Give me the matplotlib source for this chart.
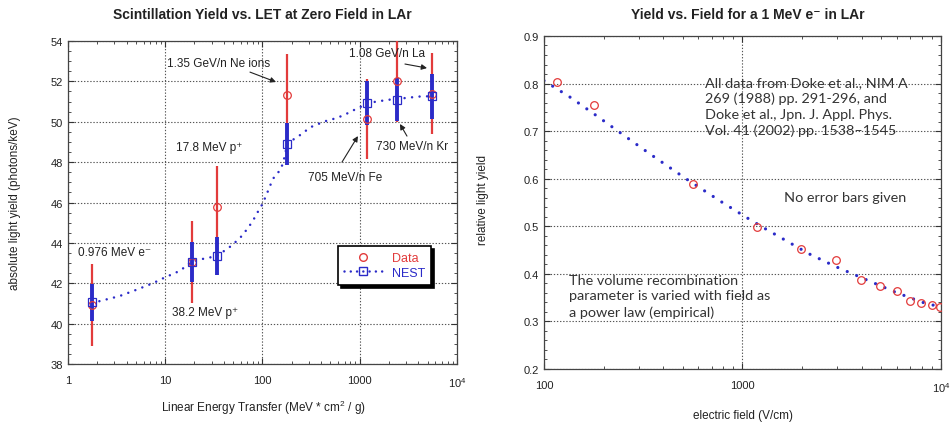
import matplotlib
matplotlib.use("Agg")
import matplotlib.pyplot as plt
from matplotlib.ticker import MultipleLocator, LogLocator, NullFormatter, FixedLocator, FixedFormatter
from matplotlib.lines import Line2D

plt.rcParams['font.family'] = ['Liberation Sans', 'DejaVu Sans']
plt.rcParams['mathtext.default'] = 'regular'

RED = '#e23b3b'
BLUE = '#2b2bc8'
GRID = dict(color='#555555', linestyle=(0, (1.2, 1.6)), linewidth=0.8)

# left panel: scintillation yield vs LET
let_x = [1.77, 18.7, 33.8, 180, 1190, 2400, 5500]
data_y = [40.92, 43.05, 45.76, 51.35, 50.15, 52.0, 51.4]
data_err = [2.03, 2.05, 2.05, 2.0, 1.97, 2.0, 2.03]
nest_y = [41.05, 43.05, 43.34, 48.9, 50.93, 51.1, 51.26]
nest_err = [0.9, 1.0, 0.95, 1.03, 1.1, 1.05, 1.1]

nest_curve_x = [1.77, 2.22, 3.37, 5.08, 7.54, 9.55, 14.2, 18.7, 26, 33.8, 47.1, 58.7,
                69.8, 79.2, 89.2, 100, 110, 128, 155, 166, 180, 216, 253, 308, 375,
                457, 566, 689, 846, 1006, 1196, 1553, 1893, 2400, 3420, 4335, 5500]
nest_curve_y = [41.02, 41.14, 41.36, 41.68, 42.01, 42.25, 42.62, 43.07, 43.24, 43.34, 43.83, 44.24,
                44.69, 45.07, 45.52, 45.93, 46.39, 47.17, 47.66, 48.12, 48.9, 49.18, 49.39, 49.72, 49.89,
                50.05, 50.17, 50.33, 50.55, 50.72, 50.93, 51.01, 51.08, 51.13, 51.21, 51.26, 51.26]

# right panel: relative yield vs field
field_x = [116, 179, 561, 1184, 1979, 2950, 3960, 4930, 5980, 6950, 7925, 8980, 9940]
field_y = [0.803, 0.755, 0.588, 0.499, 0.4525, 0.430, 0.387, 0.3755, 0.364, 0.342, 0.339, 0.3335, 0.330]
fit_x = [100, 137, 186, 251, 342, 519, 779, 1062, 1313, 2166, 2958, 4030, 5930, 8090, 10000]
fit_y = [0.806, 0.770, 0.731, 0.692, 0.652, 0.600, 0.552, 0.517, 0.494, 0.442, 0.415, 0.391,
         0.361, 0.340, 0.330]

fig = plt.figure(figsize=(9.52, 4.27), dpi=100)
ax1 = fig.add_axes([0.0714, 0.1452, 0.4086, 0.7564])
ax2 = fig.add_axes([0.5714, 0.1335, 0.417, 0.7799])


def style_axes(ax):
    ax.tick_params(which='both', direction='in', top=True, right=True, colors='#333333',
                   labelsize=8, labelcolor='#222222')
    ax.tick_params(which='major', length=4)
    ax.tick_params(which='minor', length=2.5)
    for s in ax.spines.values():
        s.set_color('#444444')
        s.set_linewidth(0.9)


# ---- left
ax1.set_xscale('log')
ax1.set_xlim(1, 1e4)
ax1.set_ylim(38, 54)
ax1.grid(True, which='major', **GRID)
ax1.plot(nest_curve_x, nest_curve_y, color=BLUE, linewidth=1.8,
         linestyle=(0, (0.01, 3.0)), dash_capstyle='round', zorder=2)
ax1.errorbar(let_x, data_y, yerr=data_err, fmt='none', ecolor=RED, elinewidth=1.6, capsize=0, zorder=3)
ax1.errorbar(let_x, nest_y, yerr=nest_err, fmt='none', ecolor=BLUE, elinewidth=2.8, capsize=0, zorder=4)
ax1.plot(let_x, data_y, 'o', mfc='none', mec=RED, ms=5.5, mew=0.9, zorder=5)
ax1.plot(let_x, nest_y, 's', mfc='none', mec=BLUE, ms=5.5, mew=0.9, zorder=6)
ax1.xaxis.set_major_locator(FixedLocator([1, 10, 100, 1000, 10000]))
ax1.xaxis.set_major_formatter(FixedFormatter(['1', '10', '100', '1000', '10$^4$']))
ax1.xaxis.set_minor_locator(LogLocator(base=10, subs=range(2, 10), numticks=20))
ax1.xaxis.set_minor_formatter(NullFormatter())
ax1.yaxis.set_major_locator(MultipleLocator(2))
ax1.yaxis.set_minor_locator(MultipleLocator(0.5))
style_axes(ax1)
ax1.tick_params(axis='x', pad=8)

afs = 8.5
arrow = dict(arrowstyle='-|>', color='#222222', lw=0.8, mutation_scale=8, shrinkA=0, shrinkB=0)
ax1.text(10.4, 52.91, '1.35 GeV/n Ne ions', fontsize=afs, va='center', color='#222222')
ax1.annotate('', xy=(137.7, 51.97), xytext=(74.4, 52.46), arrowprops=arrow)
ax1.text(775, 53.41, '1.08 GeV/n La', fontsize=afs, va='center', color='#222222')
ax1.annotate('', xy=(4920, 52.66), xytext=(2919, 52.86), arrowprops=arrow)
ax1.text(12.9, 48.75, '17.8 MeV p\u207a', fontsize=afs, va='center', color='#222222')
ax1.text(1469, 48.8, '730 MeV/n Kr', fontsize=afs, va='center', color='#222222')
ax1.annotate('', xy=(2594, 49.89), xytext=(3062, 49.29), arrowprops=arrow)
ax1.text(294, 47.26, '705 MeV/n Fe', fontsize=afs, va='center', color='#222222')
ax1.annotate('', xy=(959, 49.29), xytext=(657, 48.0), arrowprops=arrow)
ax1.text(1.27, 43.55, '0.976 MeV e\u207b', fontsize=afs, va='center', color='#222222')
ax1.text(11.7, 40.58, '38.2 MeV p\u207a', fontsize=afs, va='center', color='#222222')

handles = [Line2D([], [], marker='o', mfc='none', mec=RED, ms=5.5, linestyle='none'),
           Line2D([], [], marker='s', mfc='none', mec=BLUE, ms=5.5, color=BLUE, linewidth=1.8,
                  linestyle=(0, (0.01, 2.5)), dash_capstyle='round')]
leg = ax1.legend(handles, ['Data', 'NEST'], loc='upper left', bbox_to_anchor=(0.694, 0.365),
                 borderaxespad=0, fontsize=9, fancybox=False, framealpha=1, handlelength=3,
                 labelcolor=[RED, BLUE], labelspacing=0.2, borderpad=0.5,
                 shadow={'color': 'black', 'alpha': 1}, edgecolor='black')
leg.get_frame().set_linewidth(1.2)

# ---- right
ax2.set_xscale('log')
ax2.set_xlim(100, 1e4)
ax2.set_ylim(0.2, 0.9)
ax2.grid(True, which='major', **GRID)
ax2.plot(fit_x, fit_y, color=BLUE, linewidth=2.3, linestyle=(0, (0.01, 3.2)),
         dash_capstyle='round', zorder=2)
ax2.plot(field_x, field_y, 'o', mfc='none', mec=RED, ms=5.5, mew=0.9, zorder=3)
ax2.xaxis.set_major_locator(FixedLocator([100, 1000, 10000]))
ax2.xaxis.set_major_formatter(FixedFormatter(['100', '1000', '10$^4$']))
ax2.xaxis.set_minor_locator(LogLocator(base=10, subs=range(2, 10), numticks=20))
ax2.xaxis.set_minor_formatter(NullFormatter())
ax2.yaxis.set_major_locator(MultipleLocator(0.1))
ax2.yaxis.set_minor_locator(MultipleLocator(0.02))
style_axes(ax2)
ax2.tick_params(axis='x', pad=8)

cfont = 'Lato'
ax2.text(647, 0.753, 'All data from Doke et al., NIM A\n269 (1988) pp. 291-296, and\n'
         'Doke et al., Jpn. J. Appl. Phys.\nVol. 41 (2002) pp. 1538\u20131545',
         family=cfont, fontsize=10.4, va='center', ha='left', linespacing=1.35, color='#333333')
ax2.text(1626, 0.5624, 'No error bars given', family=cfont, fontsize=10.4, va='center',
         color='#333333')
ax2.text(134, 0.3538, 'The volume recombination\nparameter is varied with field as\n'
         'a power law (empirical)', family=cfont, fontsize=10.4, va='center', ha='left',
         linespacing=1.38, color='#333333')

# titles and axis labels
fig.text(0.2752, 0.9649, 'Scintillation Yield vs. LET at Zero Field in LAr', ha='center',
         va='center', fontsize=10, fontweight='bold', color='#222222')
fig.text(0.7857, 0.9649, 'Yield vs. Field for a 1 MeV e\u207b in LAr', ha='center', va='center',
         fontsize=10, fontweight='bold', color='#222222')
fig.text(0.2763, 0.0445, 'Linear Energy Transfer (MeV * cm$^2$ / g)', ha='center', va='center',
         fontsize=8.5, color='#222222')
fig.text(0.7805, 0.0258, 'electric field (V/cm)', ha='center', va='center', fontsize=8.5,
         color='#222222')
fig.text(0.0158, 0.5246, 'absolute light yield (photons/keV)', rotation=90, ha='center',
         va='center', fontsize=8.5, color='#222222')
fig.text(0.5074, 0.5316, 'relative light yield', rotation=90, ha='center', va='center',
         fontsize=8.5, color='#222222')

fig.savefig('out.png', dpi=100)
